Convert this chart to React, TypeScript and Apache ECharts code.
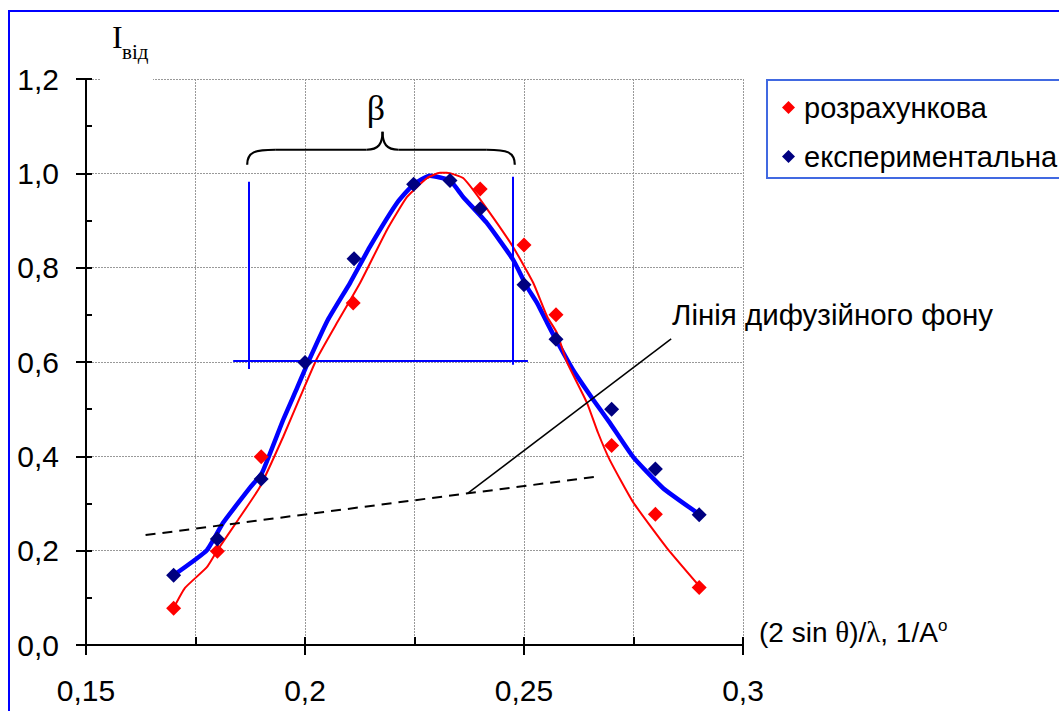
import React, { useEffect, useRef } from "react";
import * as echarts from "echarts";

// Measured points (розрахункова = calculated, red)
const redPointsX = [0.17, 0.18, 0.19, 0.211, 0.24, 0.25, 0.2573, 0.27, 0.28, 0.29];
const redPointsY = [0.078, 0.199, 0.399, 0.725, 0.967, 0.848, 0.7, 0.423, 0.277, 0.122];
// Experimental points (navy)
const bluePointsX = [0.17, 0.18, 0.19, 0.2, 0.2112, 0.2248, 0.2331, 0.24, 0.25, 0.2573, 0.27, 0.28, 0.29];
const bluePointsY = [0.148, 0.225, 0.352, 0.599, 0.819, 0.977, 0.985, 0.925, 0.764, 0.648, 0.5, 0.373, 0.276];

// Smoothed curves
const redCurveX = [0.17, 0.1726, 0.1776, 0.18, 0.1847, 0.1897, 0.195, 0.1989, 0.2027, 0.2073, 0.2126, 0.2187, 0.2233, 0.2279, 0.2308, 0.2324, 0.2361, 0.2406, 0.2475, 0.2521, 0.2553, 0.2575, 0.2598, 0.2644, 0.2669, 0.2696, 0.2749, 0.2826, 0.2902];
const redCurveY = [0.078, 0.121, 0.165, 0.201, 0.265, 0.335, 0.441, 0.526, 0.607, 0.683, 0.768, 0.88, 0.95, 0.99, 1.001, 1.001, 0.99, 0.937, 0.844, 0.768, 0.696, 0.662, 0.6, 0.513, 0.45, 0.392, 0.303, 0.206, 0.123];
const blueCurveX = [0.17, 0.1776, 0.1813, 0.1874, 0.1902, 0.195, 0.1982, 0.2005, 0.2052, 0.2103, 0.2148, 0.221, 0.2247, 0.2285, 0.2331, 0.2361, 0.2415, 0.2475, 0.2507, 0.253, 0.2553, 0.2571, 0.2612, 0.2658, 0.2696, 0.2749, 0.2817, 0.2902];
const blueCurveY = [0.148, 0.201, 0.259, 0.333, 0.365, 0.477, 0.545, 0.595, 0.689, 0.768, 0.844, 0.937, 0.976, 0.995, 0.985, 0.95, 0.895, 0.817, 0.759, 0.725, 0.683, 0.651, 0.583, 0.52, 0.471, 0.399, 0.333, 0.276];

// Annotation lines (data coordinates)
const halfWidthLine = [[0.1836, 0.602], [0.2509, 0.602]];
const leftBound = [[0.1872, 0.982], [0.1872, 0.585]];
const rightBound = [[0.2475, 0.993], [0.2475, 0.594]];
const backgroundLine = [[0.1636, 0.233], [0.2667, 0.357]];
const pointerLine = [[0.2372, 0.322], [0.2836, 0.649]];

const seriesNames = ["розрахункова", "експериментальна"];
const xTicks = [0.15, 0.2, 0.25, 0.3];
const yTicks = [0, 0.2, 0.4, 0.6, 0.8, 1.0, 1.2];

const SANS = "'Liberation Sans', Arial, sans-serif";
const SERIF = "'Liberation Serif', 'Times New Roman', serif";

const zip = (xs: number[], ys: number[]) => xs.map((x, i) => [x, ys[i]]);

export default function App() {
  const ref = useRef<HTMLDivElement>(null);
  useEffect(() => {
    const chart = echarts.init(ref.current!, null, { renderer: "svg" });
    const ml = (pts: number[][], style: any) => [
      { coord: pts[0], lineStyle: style },
      { coord: pts[1] },
    ];
    chart.setOption({
      animation: false,
      backgroundColor: "transparent",
      grid: { left: 86, top: 79, width: 657, height: 566, containLabel: false },
      legend: {
        left: 767,
        top: 80,
        orient: "vertical",
        data: seriesNames.map((n) => ({ name: n, icon: "diamond" })),
        itemWidth: 13,
        itemHeight: 13,
        itemGap: 20,
        padding: [13, 80, 7, 15],
        borderColor: "#4169e1",
        borderWidth: 2,
        backgroundColor: "#fff",
        selectedMode: false,
        textStyle: { fontSize: 29, color: "#000", fontFamily: SANS, padding: [0, 0, 0, 4] },
      },
      xAxis: [
        {
          type: "value",
          min: xTicks[0],
          max: xTicks[xTicks.length - 1],
          interval: 0.05,
          position: "bottom",
          axisLine: { lineStyle: { color: "#000", width: 2 } },
          axisTick: { show: true, inside: false, length: 10, lineStyle: { color: "#000", width: 2 } },
          axisLabel: {
            fontSize: 30,
            color: "#000",
            fontFamily: SANS,
            margin: 30,
            formatter: (v: number) => String(+v.toFixed(3)).replace(".", ","),
          },
          splitLine: { show: false },
          name: "{a|(2 sin }{g|θ}{a|)/}{g|λ}{a|, 1/A}{s|o}",
          nameLocation: "end",
          nameGap: 16,
          nameTextStyle: {
            align: "left",
            verticalAlign: "middle",
            padding: [0, 0, 26, 0],
            rich: {
              a: { fontSize: 28, fontFamily: SANS, color: "#000" },
              g: { fontSize: 29, fontFamily: SERIF, color: "#000" },
              s: { fontSize: 17, fontFamily: SANS, color: "#000", verticalAlign: "top", padding: [0, 0, 14, 0] },
            },
          },
        },
        {
          type: "value",
          min: xTicks[0],
          max: xTicks[xTicks.length - 1],
          interval: 0.025,
          position: "bottom",
          axisLine: { show: false },
          axisTick: { show: true, inside: true, length: 8, lineStyle: { color: "#000", width: 2 } },
          axisLabel: { show: false },
          splitLine: { show: true, lineStyle: { color: "#999", width: 1, type: [2, 1] } },
        },
      ],
      yAxis: [
        {
          type: "value",
          min: yTicks[0],
          max: yTicks[yTicks.length - 1],
          interval: 0.2,
          position: "left",
          axisLine: { show: true, lineStyle: { color: "#000", width: 2 } },
          axisTick: { show: true, inside: false, length: 10, lineStyle: { color: "#000", width: 2 } },
          axisLabel: {
            fontSize: 30,
            color: "#000",
            fontFamily: SANS,
            margin: 27,
            formatter: (v: number) => v.toFixed(1).replace(".", ","),
          },
          splitLine: { show: true, lineStyle: { color: "#999", width: 1, type: [2, 1] } },
        },
        {
          type: "value",
          min: yTicks[0],
          max: yTicks[yTicks.length - 1],
          interval: 0.1,
          position: "left",
          axisLine: { show: false },
          axisTick: { show: true, inside: true, length: 6, lineStyle: { color: "#000", width: 2 } },
          axisLabel: { show: false },
          splitLine: { show: false },
        },
      ],
      series: [
        {
          name: "blueCurve",
          type: "line",
          data: zip(blueCurveX, blueCurveY),
          smooth: 0.15,
          showSymbol: false,
          lineStyle: { color: "#0000ff", width: 4.5 },
          z: 3,
          markLine: {
            silent: true,
            symbol: ["none", "none"],
            label: { show: false },
            data: [
              ml(halfWidthLine, { color: "#0000ff", width: 2, type: "solid" }),
              ml(leftBound, { color: "#0000ff", width: 2, type: "solid" }),
              ml(rightBound, { color: "#0000ff", width: 2, type: "solid" }),
              ml(backgroundLine, { color: "#000", width: 2, type: [10, 7] }),
              ml(pointerLine, { color: "#000", width: 1.5, type: "solid" }),
            ],
          },
        },
        {
          name: "redCurve",
          type: "line",
          data: zip(redCurveX, redCurveY),
          smooth: 0.15,
          showSymbol: false,
          lineStyle: { color: "#ff0000", width: 2 },
          z: 4,
        },
        {
          name: seriesNames[0],
          type: "scatter",
          data: zip(redPointsX, redPointsY),
          symbol: "diamond",
          symbolSize: 15,
          itemStyle: { color: "#ff0000", opacity: 1 },
          z: 5,
        },
        {
          name: seriesNames[1],
          type: "scatter",
          data: zip(bluePointsX, bluePointsY),
          symbol: "diamond",
          symbolSize: 15,
          itemStyle: { color: "#000080", opacity: 1 },
          z: 6,
        },
      ],
    });

    const p = (x: number, y: number) => chart.convertToPixel({ seriesIndex: 0 }, [x, y]) as number[];
    const origin = p(0.15, 1.2);
    const bl = p(0.1868, 1.05);
    const br = p(0.2479, 1.05);
    const bm = p(0.2177, 1.05);
    const hook = 15;
    const tip = 18;
    const r = 28;
    const stroke = { stroke: "#000", lineWidth: 2.2, fill: "none" };
    const beta = p(0.2162, 1.139);
    const lbl = p(0.2838, 0.7);
    chart.setOption({
      graphic: [
        { type: "rect", z: 100, shape: { x: origin[0] + 14, y: origin[1] - 9, width: 53, height: 12 }, style: { fill: "#fff" } },
        { type: "text", z: 101, x: origin[0] + 26, y: origin[1] - 26, style: { text: "I", fontSize: 32, fontFamily: SERIF, fill: "#000", textVerticalAlign: "bottom" } },
        { type: "text", z: 101, x: origin[0] + 36, y: origin[1] - 17, style: { text: "від", fontSize: 21, fontFamily: SERIF, fill: "#000", textVerticalAlign: "bottom" } },
        { type: "text", z: 101, x: beta[0], y: beta[1], style: { text: "β", fontSize: 36, fontFamily: SERIF, fill: "#000", textAlign: "center", textVerticalAlign: "middle" } },
        { type: "text", z: 101, x: lbl[0], y: lbl[1], style: { text: "Лінія дифузійного фону", fontSize: 29.5, fontFamily: SANS, fill: "#000", textAlign: "left", textVerticalAlign: "middle" } },
        { type: "bezierCurve", z: 101, shape: { x1: bl[0], y1: bl[1] + hook, cpx1: bl[0], cpy1: bl[1] + 2, cpx2: bl[0] + 8, cpy2: bl[1], x2: bl[0] + r, y2: bl[1] }, style: stroke },
        { type: "line", z: 101, shape: { x1: bl[0] + r, y1: bl[1], x2: bm[0] - 16, y2: bm[1] }, style: stroke },
        { type: "bezierCurve", z: 101, shape: { x1: bm[0] - 16, y1: bm[1], cpx1: bm[0] - 4, cpy1: bm[1], cpx2: bm[0], cpy2: bm[1] - 6, x2: bm[0], y2: bm[1] - tip }, style: stroke },
        { type: "bezierCurve", z: 101, shape: { x1: bm[0], y1: bm[1] - tip, cpx1: bm[0], cpy1: bm[1] - 6, cpx2: bm[0] + 4, cpy2: bm[1], x2: bm[0] + 16, y2: bm[1] }, style: stroke },
        { type: "line", z: 101, shape: { x1: bm[0] + 16, y1: bm[1], x2: br[0] - r, y2: br[1] }, style: stroke },
        { type: "bezierCurve", z: 101, shape: { x1: br[0] - r, y1: br[1], cpx1: br[0] - 8, cpy1: br[1], cpx2: br[0], cpy2: br[1] + 2, x2: br[0], y2: br[1] + hook }, style: stroke },
      ],
    });
    return () => chart.dispose();
  }, []);

  return (
    <div style={{ position: "fixed", left: 0, top: 0, width: 1059, height: 711, overflow: "hidden", background: "#fff" }}>
      <div style={{ position: "absolute", left: 8, top: 10, width: 1200, height: 800, border: "2px solid #0000ff" }} />
      <div ref={ref} style={{ position: "absolute", left: 0, top: 0, width: 1059, height: 711 }} />
    </div>
  );
}
